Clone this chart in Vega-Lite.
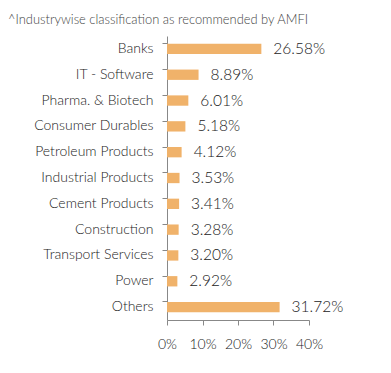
{
  "$schema": "https://vega.github.io/schema/vega-lite/v6.json",
  "autosize": {"type": "none"},
  "width": 142,
  "height": 284,
  "padding": {"left": 167, "top": 36, "right": 82, "bottom": 53},
  "background": "white",
  "title": {
    "text": "^Industrywise classification as recommended by AMFI",
    "anchor": "start",
    "frame": "group",
    "dx": -159,
    "offset": 9,
    "font": "Lato",
    "fontSize": 12.9,
    "fontWeight": 300,
    "color": "#444"
  },
  "data": {"values": [
    {"industry": "Banks", "pct": 0.2658},
    {"industry": "IT - Software", "pct": 0.0889},
    {"industry": "Pharma. & Biotech", "pct": 0.0601},
    {"industry": "Consumer Durables", "pct": 0.0518},
    {"industry": "Petroleum Products", "pct": 0.0412},
    {"industry": "Industrial Products", "pct": 0.0353},
    {"industry": "Cement Products", "pct": 0.0341},
    {"industry": "Construction", "pct": 0.0328},
    {"industry": "Transport Services", "pct": 0.0320},
    {"industry": "Power", "pct": 0.0292},
    {"industry": "Others", "pct": 0.3172}
  ]},
  "encoding": {
    "y": {
      "field": "industry", "type": "nominal", "sort": null, "title": null,
      "scale": {"paddingInner": 0.6, "paddingOuter": 0.3},
      "axis": {"bandPosition": 0, "labelFont": "Lato", "labelFontWeight": 300, "labelFontSize": 14, "labelColor": "#222", "labelPadding": 9, "tickSize": 5, "domainColor": "#888", "tickColor": "#888", "labelBound": false}
    },
    "x": {
      "field": "pct", "type": "quantitative", "title": null,
      "scale": {"domain": [0, 0.4]},
      "axis": {"format": ".0%", "values": [0, 0.1, 0.2, 0.3, 0.4], "labelOverlap": false, "labelFlush": false, "grid": false, "labelFont": "Lato", "labelFontWeight": 300, "labelFontSize": 14, "labelColor": "#222", "domainColor": "#888", "tickColor": "#888", "tickSize": 5, "labelPadding": 12}
    }
  },
  "layer": [
    {"mark": {"type": "bar", "color": "#F0B26A"}},
    {"mark": {"type": "text", "align": "left", "dx": 12, "font": "Lato", "fontWeight": 300, "fontSize": 15.5, "color": "#222"},
     "encoding": {"text": {"field": "pct", "format": ".2%"}}}
  ],
  "config": {"view": {"stroke": null}}
}
